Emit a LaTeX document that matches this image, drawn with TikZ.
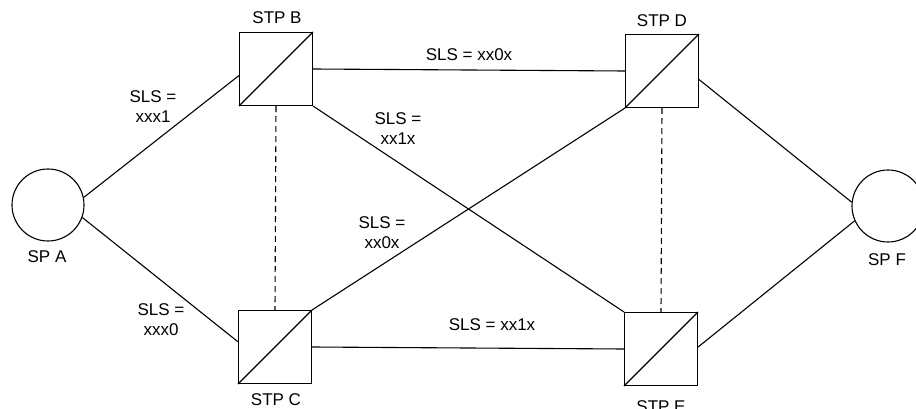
\documentclass[tikz,border=0pt]{standalone}
\usepackage{fontspec}
\setmainfont{Liberation Sans}
\begin{document}
\begin{tikzpicture}[x=1pt,y=-1pt,
  line width=1.1pt,
  stp/.style={draw, rectangle, minimum width=73pt, minimum height=73pt, inner sep=0pt},
  sp/.style={draw, circle, minimum size=72pt, inner sep=0pt},
  lbl/.style={font=\fontsize{17}{20}\selectfont, inner sep=0pt, align=center},
  link/.style={draw},
  dashlink/.style={draw, dash pattern=on 6pt off 4pt},
]
\useasboundingbox (0,0) rectangle (916,409);
\clip (0,0) rectangle (916,409);

% end points
\node[sp] (spa) at (48,205) {};
\node[sp] (spf) at (888,206) {};

% STP boxes
\node[stp] (stpb) at (276,69) {};
\node[stp] (stpd) at (662,71) {};
\node[stp] (stpc) at (275,347) {};
\node[stp] (stpe) at (661,349) {};
\foreach \n in {stpb,stpd,stpc,stpe}
  \draw (\n.south west) -- (\n.north east);

% names
\node[lbl] (tspa) at (47,257) {SP A};
\node[lbl] (tspf) at (887,260) {SP F};
\node[lbl] (tstpb) at (277,18) {STP B};
\node[lbl] (tstpd) at (662,21) {STP D};
\node[lbl] (tstpc) at (276,400) {STP C};
\node[lbl] (tstpe) at (661,407) {STP E};

% links
\path[link] (spa.12) -- (stpb.190);
\path[link] (spa.-20) -- (stpc.172);
\path[link] (stpd.-13) -- (spf.174);
\path[link] (stpe.3) -- (spf.204);
\path[link] (stpb.east) -- (stpd.west);
\path[link] (stpc.east) -- (stpe.west);
\path[link] (stpb.south east) -- (stpe.north west);
\path[link] (stpc.north east) -- (stpd.south west);
\path[dashlink] (stpb.south) -- (stpc.north);
\path[dashlink] (stpd.south) -- (stpe.north);

% link labels
\node[lbl] (l1) at (153,107) {SLS =\\xxx1};
\node[lbl] (l2) at (161,320) {SLS =\\xxx0};
\node[lbl] (l3) at (398,129) {SLS =\\xx1x};
\node[lbl] (l4) at (382,233) {SLS =\\xx0x};
\node[lbl] (l5) at (469,55) {SLS = xx0x};
\node[lbl] (l6) at (492,325) {SLS = xx1x};
\end{tikzpicture}
\end{document}
